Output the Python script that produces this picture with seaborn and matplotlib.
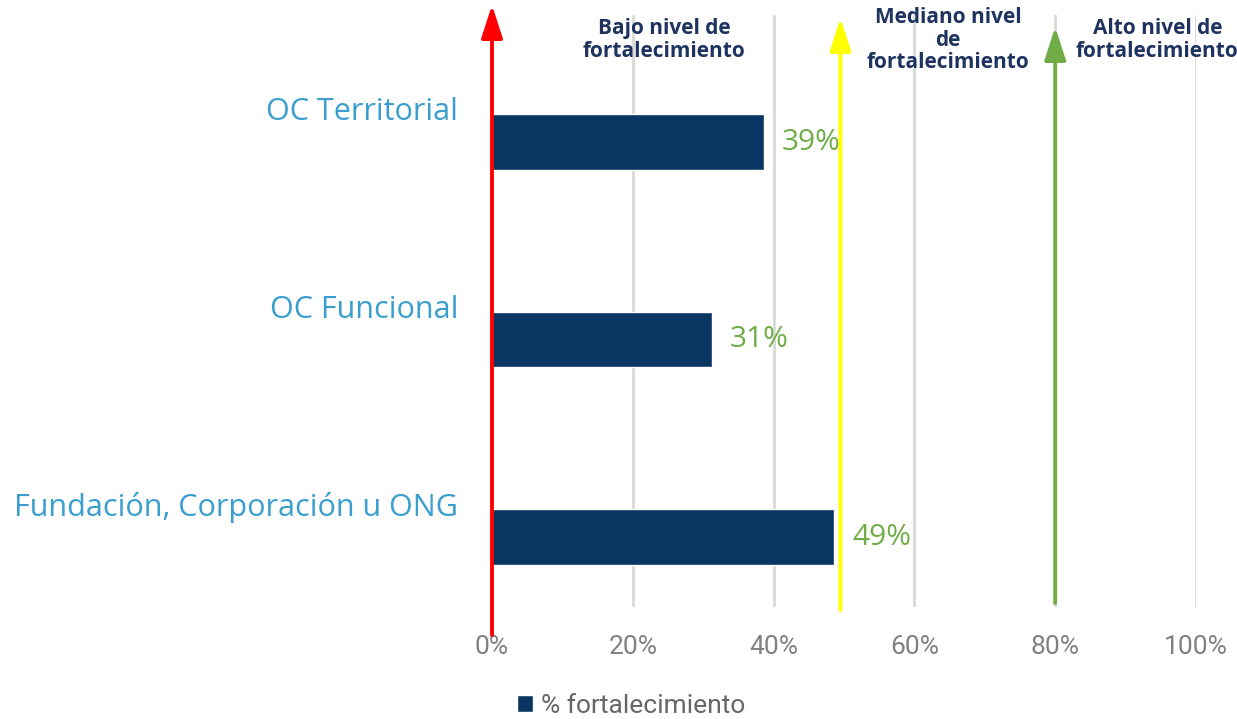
import numpy as np
import pandas as pd
import matplotlib
matplotlib.use("Agg")
import matplotlib.pyplot as plt
from matplotlib import font_manager
from matplotlib.patches import Patch
from matplotlib.ticker import PercentFormatter
import seaborn as sns

# data
categories = ["OC Territorial", "OC Funcional", "Fundación, Corporación u ONG"]
values = [0.386, 0.312, 0.486]
level_texts = ["Bajo nivel de\nfortalecimiento", "Mediano nivel\nde\nfortalecimiento",
               "Alto nivel de\nfortalecimiento"]
level_x = [0.245, 0.648, 0.945]   # where the level captions sit (in x units)
thresholds = [0.0, 0.495, 0.80]
threshold_colors = ["#FF0000", "#FFFF00", "#70AD47"]
xticks = [0, 0.2, 0.4, 0.6, 0.8, 1.0]

navy = "#0B3563"
df = pd.DataFrame({"cat": categories, "val": values})

sns.set_theme(style="white")
plt.rcParams["font.family"] = ["Open Sans", "DejaVu Sans"]

installed = {f.name for f in font_manager.fontManager.ttflist}
narrow = "Liberation Sans Narrow" if "Liberation Sans Narrow" in installed else "Roboto"

fig = plt.figure(figsize=(12.37, 7.19), dpi=100)
ax = fig.add_axes([492 / 1237, 1 - 607 / 719, (1196 - 492) / 1237, (607 - 15) / 719])

sns.barplot(data=df, x="val", y="cat", orient="h", color=navy, width=0.28,
            saturation=1, ax=ax)

ax.set_xlim(0, 1)
ax.set_ylim(2.354, -0.643)
ax.set_xticks(xticks)
ax.xaxis.set_major_formatter(PercentFormatter(1.0, decimals=0))
ax.tick_params(axis="x", length=0, pad=20, labelsize=19, labelcolor="#808080")
for t in ax.get_xticklabels():
    t.set_family([narrow, "DejaVu Sans"])
ax.set_yticks([])
ax.set_xlabel("")
ax.set_ylabel("")
for s in ax.spines.values():
    s.set_visible(False)
ax.grid(axis="x", color="#D9D9D9", lw=2)
ax.set_axisbelow(True)

# category labels sit a bit above each bar
for i, c in enumerate(categories):
    ax.text(-0.048, i - 0.15, c, ha="right", va="center", fontsize=22,
            color="#3A9FCF", transform=ax.get_yaxis_transform(), clip_on=False)

# value labels
for i, v in enumerate(values):
    ax.text(v + 0.026, i, f"{v:.0%}", ha="left", va="center", fontsize=21.5,
            color="#70AD47")

# threshold arrows
arrow_spans = [(635, 5), (610, 18), (603, 27)]
for x, col, (y0, y1) in zip(thresholds, threshold_colors, arrow_spans):
    ax.annotate("", xy=(x, 1 - y1 / 719), xytext=(x, 1 - y0 / 719),
                xycoords=("data", "figure fraction"),
                textcoords=("data", "figure fraction"),
                arrowprops=dict(arrowstyle="-|>,head_width=0.65,head_length=2.0",
                                color=col, lw=2.8, shrinkA=0, shrinkB=0,
                                mutation_scale=10),
                annotation_clip=False)

# level captions
for x, txt in zip(level_x, level_texts):
    ax.text(x, 1 - 40 / 719, txt, ha="center", va="center", fontsize=15,
            fontweight="bold", color="#1F3360", linespacing=1.12,
            transform=matplotlib.transforms.blended_transform_factory(ax.transData, fig.transFigure),
            clip_on=False)

handles = [Patch(facecolor=navy, label="% fortalecimiento")]
leg = fig.legend(handles=handles, loc="center", bbox_to_anchor=(0.51, 1 - 706 / 719),
                 frameon=False, handlelength=0.6, handleheight=0.6, handletextpad=0.3,
                 fontsize=19)
for t in leg.get_texts():
    t.set_color("#666666")
    t.set_family([narrow, "DejaVu Sans"])

fig.savefig("out.png", dpi=100)
